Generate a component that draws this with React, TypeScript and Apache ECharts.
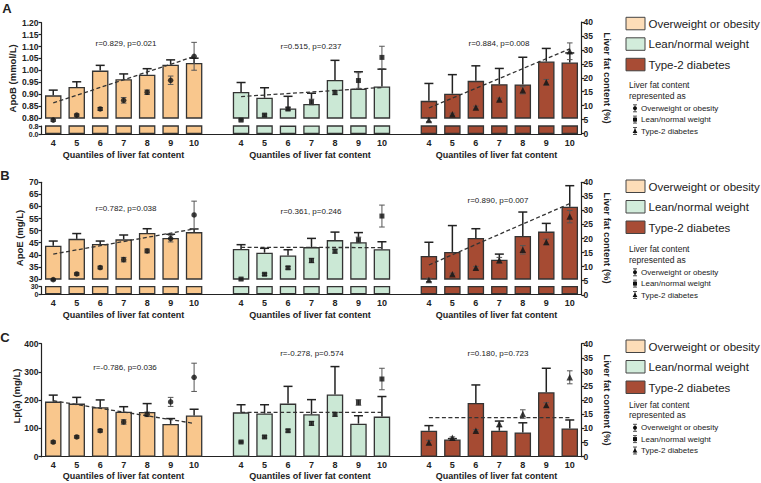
import React, { useEffect, useRef } from 'react';
import * as echarts from 'echarts';

const FONT = '"Liberation Sans", Arial, Helvetica, sans-serif';

const QUANTILES = ['4', '5', '6', '7', '8', '9', '10'];
const GROUPS = ['Overweight or obesity', 'Lean/normal weight', 'Type-2 diabetes'];
const BAR_COLORS = ['#F9C78D', '#CBE8D5', '#A64B33'];
const LEGEND_COLORS = ['#FDDDB8', '#D2ECDB', '#A84C35'];
const SYMBOLS = ['circle', 'rect', 'triangle'];

// ---- Panel A: ApoB (mmol/L) ----
const apoB_ow = [0.895, 0.930, 0.999, 0.963, 0.982, 1.024, 1.031];
const apoB_owErr = [0.022, 0.022, 0.022, 0.022, 0.025, 0.020, 0.020];
const apoB_lean = [0.909, 0.885, 0.840, 0.859, 0.960, 0.923, 0.932];
const apoB_leanErr = [0.040, 0.042, 0.051, 0.045, 0.082, 0.071, 0.073];
const apoB_t2d = [0.872, 0.902, 0.956, 0.942, 0.941, 1.037, 1.033];
const apoB_t2dErr = [0.073, 0.080, 0.063, 0.066, 0.114, 0.055, 0.040];
const apoB_trend = [[0.863, 1.058], [0.890, 0.928], [0.842, 1.090]];
const apoB_stats = ['r=0.829, p=0.021', 'r=0.515, p=0.237', 'r=0.884, p=0.008'];
const fatA_ow = [4.8, 6.6, 8.8, 11.9, 14.8, 19.1, 27.7];
const fatA_owErr = [0.4, 0.4, 0.5, 1.0, 0.8, 1.5, 5.0];
const fatA_lean = [4.8, 6.6, 8.8, 11.3, 14.7, 19.0, 27.3];
const fatA_leanErr = [0.3, 0.4, 0.6, 1.0, 0.8, 2.8, 4.0];
const fatA_t2d = [4.8, 6.9, 9.3, 12.2, 15.5, 18.4, 29.5];
const fatA_t2dErr = [0.6, 0.4, 0.5, 0.5, 1.3, 1.0, 3.0];

// ---- Panel B: ApoE (mg/L) ----
const apoE_ow = [43.8, 46.6, 44.5, 46.4, 49.0, 47.0, 49.4];
const apoE_owErr = [1.9, 2.2, 1.2, 1.8, 1.8, 1.5, 1.3];
const apoE_lean = [42.4, 40.9, 39.7, 43.2, 46.1, 45.2, 42.3];
const apoE_leanErr = [1.8, 1.8, 2.4, 3.6, 3.3, 4.0, 3.1];
const apoE_t2d = [39.5, 41.2, 47.0, 38.0, 47.8, 49.6, 59.9];
const apoE_t2dErr = [5.7, 10.9, 3.8, 2.3, 9.9, 3.4, 8.7];
const apoE_trend = [[40.3, 50.7], [43.1, 43.0], [35.8, 61.2]];
const apoE_stats = ['r=0.782, p=0.038', 'r=0.361, p=0.246', 'r=0.890, p=0.007'];
const fatB_ow = [5.4, 7.4, 9.7, 12.5, 15.6, 20.0, 28.4];
const fatB_owErr = [0.4, 0.4, 0.5, 0.8, 0.7, 1.2, 4.9];
const fatB_lean = [5.6, 7.3, 9.6, 12.2, 15.5, 19.5, 28.0];
const fatB_leanErr = [0.3, 0.4, 0.5, 0.8, 0.7, 1.0, 3.9];
const fatB_t2d = [5.3, 7.3, 9.6, 12.3, 16.0, 18.8, 27.8];
const fatB_t2dErr = [0.6, 0.4, 0.5, 1.0, 1.5, 1.0, 2.2];

// ---- Panel C: Lp(a) (mg/L) ----
const lpa_ow = [195, 188, 175, 159, 158, 116, 146];
const lpa_owErr = [23, 22, 26, 18, 30, 19, 22];
const lpa_lean = [157, 153, 188, 150, 220, 117, 142];
const lpa_leanErr = [27, 31, 61, 52, 99, 28, 71];
const lpa_t2d = [92, 61, 190, 92, 86, 228, 100];
const lpa_t2dErr = [18, 3, 64, 34, 34, 85, 30];
const lpa_trend = [[198, 118], [157, 157], [138, 138]];
const lpa_stats = ['r=-0.786, p=0.036', 'r=-0.278, p=0.574', 'r=0.180, p=0.723'];
const fatC_ow = [5.2, 7.0, 9.2, 12.3, 15.0, 19.4, 28.1];
const fatC_owErr = [0.4, 0.4, 0.5, 0.8, 0.8, 1.6, 5.0];
const fatC_lean = [5.2, 7.0, 9.2, 11.8, 15.0, 19.2, 27.5];
const fatC_leanErr = [0.3, 0.4, 0.5, 0.7, 0.7, 1.0, 3.8];
const fatC_t2d = [5.0, 6.7, 9.2, 11.6, 15.1, 18.3, 28.1];
const fatC_t2dErr = [0.8, 0.3, 0.4, 1.0, 1.5, 0.8, 2.3];

const FAT_TICKS = { min: 0, max: 40, interval: 5 };

const PANELS = [
  {
    letter: 'A', yName: 'ApoB (mmol/L)',
    bars: [apoB_ow, apoB_lean, apoB_t2d], barErr: [apoB_owErr, apoB_leanErr, apoB_t2dErr],
    fat: [fatA_ow, fatA_lean, fatA_t2d], fatErr: [fatA_owErr, fatA_leanErr, fatA_t2dErr],
    trend: apoB_trend, stats: apoB_stats,
    axis: { min: 0.8, max: 1.2, interval: 0.05, dec: 2, lowMax: 0.8, lowDec: 1 },
    box: { top: 22.7, breakTop: 118, breakBottom: 126, bottom: 134, rTop: 22, rBottom: 133.5 },
    statPos: [[126, 43], [311, 46], [499, 43]],
    letterPos: [7, 8.5], yNamePos: [12.7, 78.4], rNamePos: [607.5, 78], titleY: 155,
    legendBox: 0, legendText: 0,
  },
  {
    letter: 'B', yName: 'ApoE (mg/L)',
    bars: [apoE_ow, apoE_lean, apoE_t2d], barErr: [apoE_owErr, apoE_leanErr, apoE_t2dErr],
    fat: [fatB_ow, fatB_lean, fatB_t2d], fatErr: [fatB_owErr, fatB_leanErr, fatB_t2dErr],
    trend: apoE_trend, stats: apoE_stats,
    axis: { min: 30, max: 70, interval: 5, dec: 0, lowMax: 30, lowDec: 0 },
    box: { top: 182.3, breakTop: 279, breakBottom: 286.7, bottom: 294.2, rTop: 182.3, rBottom: 294.8 },
    statPos: [[126, 208], [311, 211], [498, 200]],
    letterPos: [5, 175], yNamePos: [19, 238], rNamePos: [607.5, 238], titleY: 315,
    legendBox: 162.7, legendText: 164,
  },
  {
    letter: 'C', yName: 'Lp(a) (mg/L)',
    bars: [lpa_ow, lpa_lean, lpa_t2d], barErr: [lpa_owErr, lpa_leanErr, lpa_t2dErr],
    fat: [fatC_ow, fatC_lean, fatC_t2d], fatErr: [fatC_owErr, fatC_leanErr, fatC_t2dErr],
    trend: lpa_trend, stats: lpa_stats,
    axis: { min: 0, max: 400, interval: 100, dec: 0 },
    box: { top: 343.7, bottom: 456.7 },
    statPos: [[125, 367], [312, 353], [498, 353]],
    letterPos: [5, 337], yNamePos: [16, 396], rNamePos: [607.5, 400], titleY: 475.7,
    legendBox: 322.7, legendText: 319.5,
  },
];

const GRID_LEFT = 41.5;
const GRID_WIDTH = 540;
const TITLE_X = [123.5, 310, 496.5];

const CATS: string[] = [];
for (let g = 0; g < 3; g++) {
  QUANTILES.forEach((q) => CATS.push(`${g}_${q}`));
  if (g < 2) CATS.push(`gap${g}`);
}
const catIdx = (g: number, k: number) => g * 8 + k;

const AXIS_COLOR = '#222';
const lineStyle = { color: AXIS_COLOR, width: 1.2 };
const labelStyle = { color: AXIS_COLOR, fontWeight: 'bold', fontSize: 8.5, fontFamily: FONT };

function hiddenX(gridIndex: number) {
  return { type: 'category', gridIndex, data: CATS, show: false };
}
function visibleX(gridIndex: number) {
  return {
    type: 'category', gridIndex, data: CATS,
    axisLine: { onZero: false, lineStyle },
    axisTick: { alignWithLabel: true, length: 3, lineStyle, interval: (_i: number, v: string) => !String(v).startsWith('gap') },
    axisLabel: { ...labelStyle, fontSize: 9, margin: 4, interval: 0, formatter: (v: string) => (v.startsWith('gap') ? '' : v.split('_')[1]) },
    splitLine: { show: false },
  };
}
function valueY(gridIndex: number, min: number, max: number, interval: number, dec: number, position = 'left', fontSize = 8.5) {
  return {
    type: 'value', gridIndex, min, max, interval, position,
    axisLine: { show: true, onZero: false, lineStyle },
    axisTick: { show: true, length: 3, lineStyle },
    axisLabel: { ...labelStyle, fontSize, lineHeight: fontSize, margin: position === 'left' ? 3 : 2, formatter: (v: number) => v.toFixed(dec) },
    splitLine: { show: false },
  };
}

function barErrRender(_params: any, api: any) {
  const x = api.value(0), m = api.value(1), e = api.value(2);
  const p0 = api.coord([x, m]);
  const p1 = api.coord([x, m + e]);
  const hw = 4.5;
  const st = { stroke: '#222', lineWidth: 1.5 };
  return {
    type: 'group',
    children: [
      { type: 'line', shape: { x1: p0[0], y1: p0[1], x2: p1[0], y2: p1[1] }, style: st },
      { type: 'line', shape: { x1: p1[0] - hw, y1: p1[1], x2: p1[0] + hw, y2: p1[1] }, style: st },
    ],
  };
}
function pointErrRender(_params: any, api: any) {
  const x = api.value(0), m = api.value(1), e = api.value(2);
  const p0 = api.coord([x, m - e]);
  const p1 = api.coord([x, m + e]);
  const hw = 2.8;
  const st = { stroke: '#555', lineWidth: 1 };
  return {
    type: 'group',
    children: [
      { type: 'line', shape: { x1: p0[0], y1: p0[1], x2: p1[0], y2: p1[1] }, style: st },
      { type: 'line', shape: { x1: p0[0] - hw, y1: p0[1], x2: p0[0] + hw, y2: p0[1] }, style: st },
      { type: 'line', shape: { x1: p1[0] - hw, y1: p1[1], x2: p1[0] + hw, y2: p1[1] }, style: st },
    ],
  };
}

function buildOption() {
  const grid: any[] = [];
  const xAxis: any[] = [];
  const yAxis: any[] = [];
  const series: any[] = [];
  const graphic: any[] = [];

  const addGrid = (top: number, bottom: number) => {
    grid.push({ left: GRID_LEFT, width: GRID_WIDTH, top, height: bottom - top, outerBoundsMode: 'none', containLabel: false });
    return grid.length - 1;
  };

  const addBars = (p: any, xi: number, yi: number) => {
    for (let g = 0; g < 3; g++) {
      const data = CATS.map(() => '-' as any);
      p.bars[g].forEach((v: number, k: number) => { data[catIdx(g, k)] = v; });
      series.push({
        type: 'bar', name: GROUPS[g], xAxisIndex: xi, yAxisIndex: yi, data,
        barWidth: 16.5, barGap: '-100%', clip: true, z: 2,
        itemStyle: { color: BAR_COLORS[g], borderColor: '#333', borderWidth: 1.3 },
      });
    }
  };
  const addBarExtras = (p: any, xi: number, yi: number) => {
    for (let g = 0; g < 3; g++) {
      series.push({
        type: 'custom', xAxisIndex: xi, yAxisIndex: yi, z: 3, renderItem: barErrRender,
        encode: { x: 0, y: 1 },
        data: p.bars[g].map((v: number, k: number) => [catIdx(g, k), v, p.barErr[g][k]]),
      });
      series.push({
        type: 'line', xAxisIndex: xi, yAxisIndex: yi, z: 4, symbol: 'none', silent: true,
        lineStyle: { color: '#333', width: 1.3, type: [4, 2.5] },
        data: [[catIdx(g, 0), p.trend[g][0]], [catIdx(g, 6), p.trend[g][1]]],
      });
    }
  };
  const addPoints = (p: any, xi: number, yi: number) => {
    for (let g = 0; g < 3; g++) {
      series.push({
        type: 'custom', xAxisIndex: xi, yAxisIndex: yi, z: 5, renderItem: pointErrRender,
        encode: { x: 0, y: 1 },
        data: p.fat[g].map((v: number, k: number) => [catIdx(g, k), v, p.fatErr[g][k]]),
      });
      series.push({
        type: 'scatter', xAxisIndex: xi, yAxisIndex: yi, z: 6,
        symbol: SYMBOLS[g], symbolSize: g === 2 ? 6.5 : g === 1 ? 5 : 5.5,
        itemStyle: { color: '#111' },
        data: p.fat[g].map((v: number, k: number) => [catIdx(g, k), v]),
      });
    }
  };

  PANELS.forEach((p: any, pi) => {
    const b = p.box;
    const a = p.axis;
    if (pi < 2) {
      const gT = addGrid(b.top, b.breakTop);
      const gB = addGrid(b.breakBottom, b.bottom);
      const gO = addGrid(b.rTop, b.rBottom);
      xAxis.push(hiddenX(gT)); const xT = xAxis.length - 1;
      xAxis.push(visibleX(gB)); const xB = xAxis.length - 1;
      xAxis.push(hiddenX(gO)); const xO = xAxis.length - 1;
      yAxis.push(valueY(gT, a.min, a.max, a.interval, a.dec)); const yT = yAxis.length - 1;
      yAxis.push(valueY(gB, 0, a.lowMax, a.lowMax, a.lowDec, 'left', 7)); const yB = yAxis.length - 1;
      yAxis.push(valueY(gO, FAT_TICKS.min, FAT_TICKS.max, FAT_TICKS.interval, 0, 'right')); const yO = yAxis.length - 1;
      addBars(p, xT, yT);
      addBars(p, xB, yB);
      addBarExtras(p, xT, yT);
      addPoints(p, xO, yO);
    } else {
      const gI = addGrid(b.top, b.bottom);
      xAxis.push(visibleX(gI)); const xI = xAxis.length - 1;
      yAxis.push(valueY(gI, a.min, a.max, a.interval, a.dec)); const yL = yAxis.length - 1;
      yAxis.push(valueY(gI, FAT_TICKS.min, FAT_TICKS.max, FAT_TICKS.interval, 0, 'right')); const yR = yAxis.length - 1;
      addBars(p, xI, yL);
      addBarExtras(p, xI, yL);
      addPoints(p, xI, yR);
    }

    const txt = (text: string, x: number, y: number, font: string, extra: any = {}) => ({
      type: 'text', x, y, silent: true, ...extra,
      style: {
        text, font, fill: '#222',
        textAlign: extra.align || 'center', align: extra.align || 'center',
        textVerticalAlign: 'middle', verticalAlign: 'middle',
      },
    });

    graphic.push(txt(p.letter, p.letterPos[0], p.letterPos[1], `bold 13px ${FONT}`));
    graphic.push(txt(p.yName, p.yNamePos[0], p.yNamePos[1], `bold 9.5px ${FONT}`, { rotation: Math.PI / 2 }));
    graphic.push(txt('Liver fat content (%)', p.rNamePos[0], p.rNamePos[1], `bold 9.5px ${FONT}`, { rotation: -Math.PI / 2 }));
    TITLE_X.forEach((x) => graphic.push(txt('Quantiles of liver fat content', x, p.titleY, `bold 9px ${FONT}`)));
    p.stats.forEach((s: string, g: number) => graphic.push(txt(s, p.statPos[g][0], p.statPos[g][1], `8px ${FONT}`)));

    // legend: bar groups
    for (let i = 0; i < 3; i++) {
      const y0 = 17.3 + 20.5 * i + p.legendBox;
      graphic.push({
        type: 'rect', silent: true, shape: { x: 626, y: y0, width: 19, height: 12.5 },
        style: { fill: LEGEND_COLORS[i], stroke: '#444', lineWidth: 1 },
      });
      graphic.push(txt(GROUPS[i], 648.5, y0 + 6.5, `11.5px ${FONT}`, { align: 'left' }));
    }
    const t0 = p.legendText;
    graphic.push(txt('Liver fat content', 629, 85 + t0, `8.5px ${FONT}`, { align: 'left' }));
    graphic.push(txt('represented as', 629, 95.7 + t0, `8.5px ${FONT}`, { align: 'left' }));
    const itemYs = [108.3, 119.6, 131];
    for (let i = 0; i < 3; i++) {
      const y = itemYs[i] + t0;
      const mx = 635;
      const st = { stroke: '#444', lineWidth: 0.9 };
      graphic.push({ type: 'line', silent: true, shape: { x1: mx, y1: y - 3.5, x2: mx, y2: y + 3.5 }, style: st });
      graphic.push({ type: 'line', silent: true, shape: { x1: mx - 2, y1: y - 3.5, x2: mx + 2, y2: y - 3.5 }, style: st });
      graphic.push({ type: 'line', silent: true, shape: { x1: mx - 2, y1: y + 3.5, x2: mx + 2, y2: y + 3.5 }, style: st });
      if (i === 0) graphic.push({ type: 'circle', silent: true, shape: { cx: mx, cy: y, r: 2 }, style: { fill: '#111' } });
      if (i === 1) graphic.push({ type: 'rect', silent: true, shape: { x: mx - 2, y: y - 2, width: 4, height: 4 }, style: { fill: '#111' } });
      if (i === 2) graphic.push({ type: 'polygon', silent: true, shape: { points: [[mx, y - 2.5], [mx + 2.4, y + 2], [mx - 2.4, y + 2]] }, style: { fill: '#111' } });
      graphic.push(txt(GROUPS[i], 641, y, `8px ${FONT}`, { align: 'left' }));
    }
  });

  return {
    animation: false,
    backgroundColor: '#ffffff',
    textStyle: { fontFamily: FONT },
    grid, xAxis, yAxis, series, graphic,
  };
}

export default function App() {
  const ref = useRef<HTMLDivElement>(null);
  useEffect(() => {
    if (!ref.current) return;
    const chart = echarts.init(ref.current, null, { renderer: 'svg' });
    chart.setOption(buildOption() as any);
    return () => chart.dispose();
  }, []);
  return (
    <div
      ref={ref}
      style={{ position: 'absolute', left: 0, top: 0, width: 761, height: 483, background: '#fff' }}
    />
  );
}
